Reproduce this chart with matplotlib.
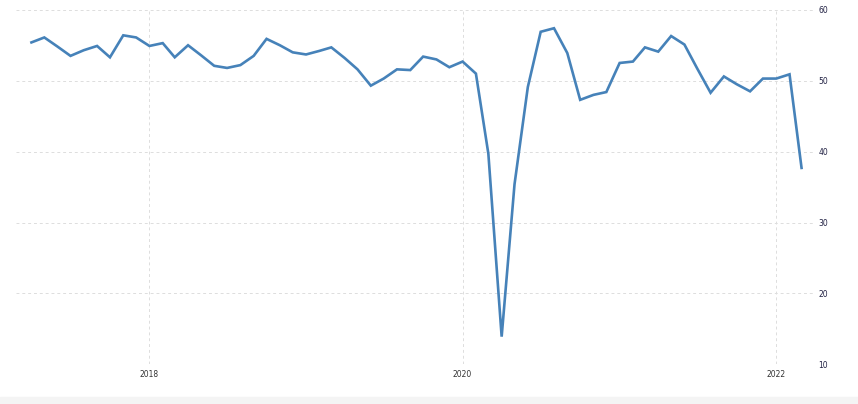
import datetime as dt

import matplotlib.dates as mdates
import matplotlib.pyplot as plt
from matplotlib.patches import Rectangle

# monthly values, Apr 2017 .. Mar 2022
start_year, start_month = 2017, 4
values = [
    55.4, 56.1, 54.8, 53.5, 54.3, 54.9, 53.3, 56.4, 56.1,   # 2017
    54.9, 55.3, 53.3, 55.0, 53.6, 52.1, 51.8, 52.2, 53.5, 55.9, 55.0, 54.0,
    53.7, 54.2, 54.7,                                        # 2018
    53.2, 51.6, 49.3, 50.3, 51.6, 51.5, 53.4, 53.0, 51.9, 52.7, 51.0, 39.7,
    13.9, 35.4, 49.1, 56.9, 57.4, 53.9, 47.3, 48.0, 48.4, 52.5, 52.7, 54.7,
    54.1, 56.3, 55.1, 51.7, 48.3, 50.6, 49.5, 48.5, 50.3, 50.3, 50.9, 37.7,
]
dates = []
for i in range(len(values)):
    m = start_month - 1 + i
    dates.append(dt.date(start_year + m // 12, m % 12 + 1, 1))

yticks = [10, 20, 30, 40, 50, 60]
xtick_years = [2018, 2020, 2022]

W, H = 858, 404
fig = plt.figure(figsize=(W / 100, H / 100), dpi=100)
fig.patches.append(Rectangle((0, 0), 1, 7 / H, transform=fig.transFigure,
                             color="#f4f4f4", zorder=0))
ax = fig.add_axes([16 / W, (H - 364.3) / H, (812.7 - 16) / W, (364.3 - 9.8) / H])

ax.plot(dates, values, color="#4682b9", lw=1.9, solid_joinstyle="miter")

ax.set_ylim(10, 60)
ax.set_xlim(dt.date(2017, 2, 24), dt.date(2022, 3, 27))
ax.set_yticks(yticks)
ax.set_xticks([dt.date(y, 1, 1) for y in xtick_years])
ax.xaxis.set_major_formatter(mdates.DateFormatter("%Y"))
ax.yaxis.tick_right()

for s in ax.spines.values():
    s.set_visible(False)
ax.tick_params(length=0, labelsize=5.5, colors="#333333")
ax.tick_params(axis="y", pad=4, labelcolor="#222244")
ax.tick_params(axis="x", pad=4)
ax.grid(True, color="#dddddd", linestyle=(0, (3, 3)), linewidth=0.7)
ax.set_axisbelow(True)

fig.savefig("out.png", dpi=100)
